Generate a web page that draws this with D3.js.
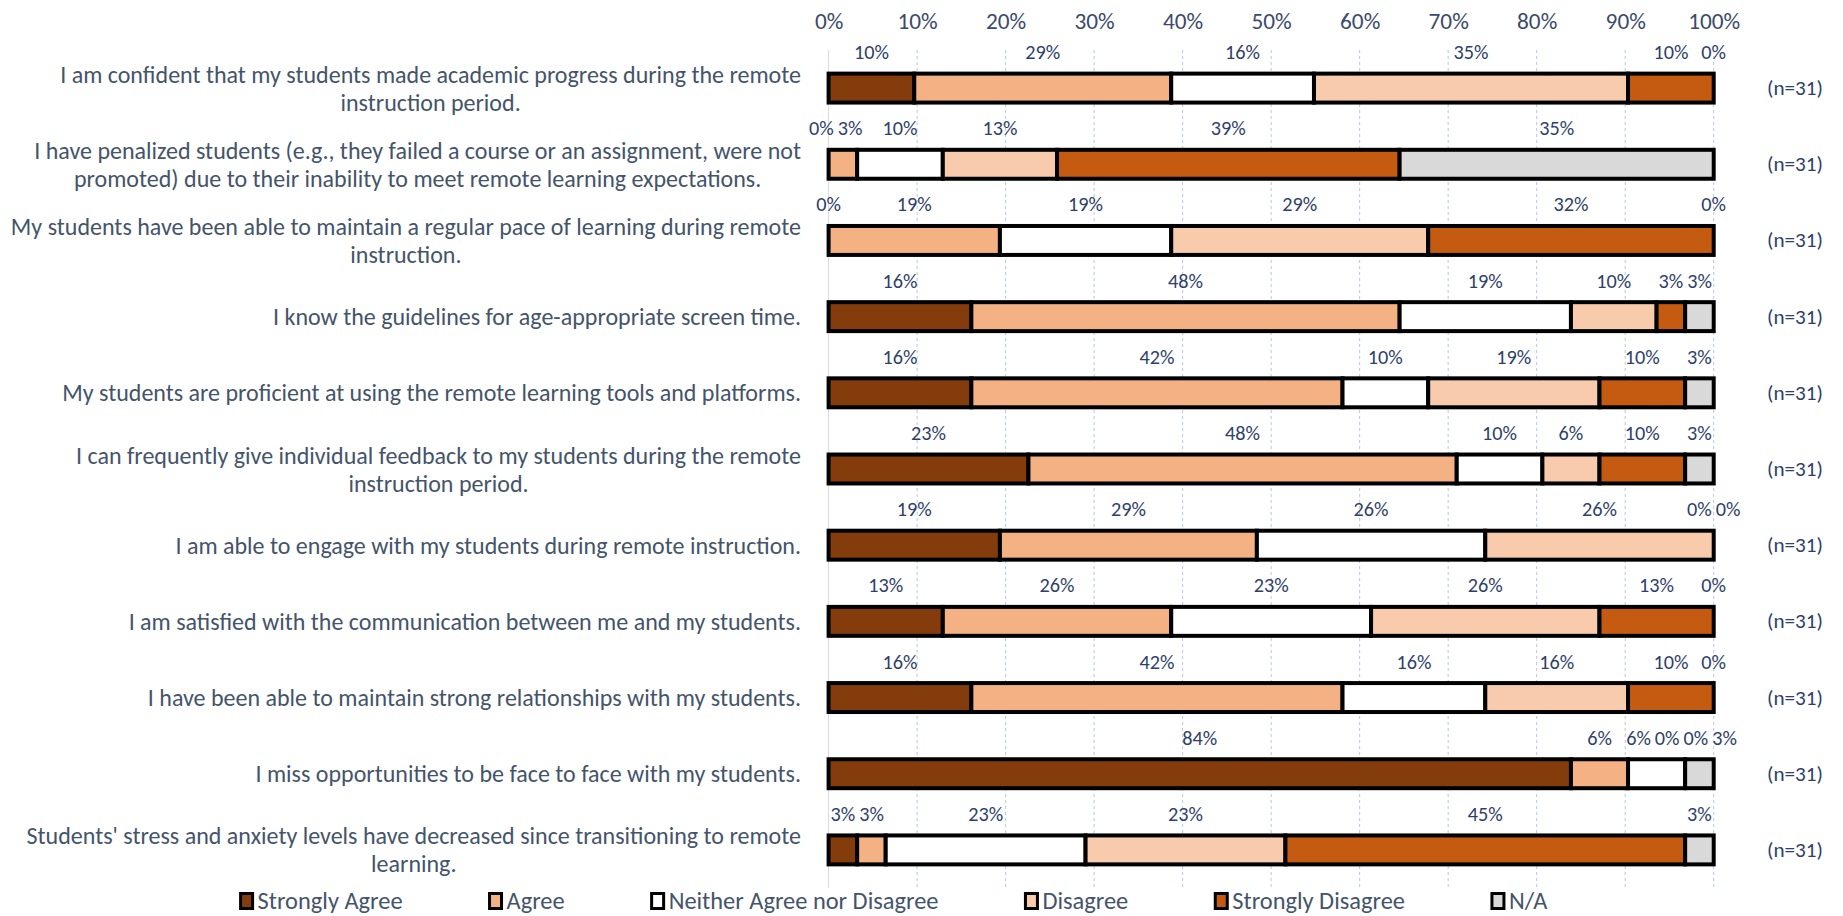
<!DOCTYPE html>
<html>
<head>
<meta charset="utf-8">
<script src="https://cdn.jsdelivr.net/npm/d3@7"></script>
<style>
  html, body { margin: 0; padding: 0; background: #ffffff; }
  svg { display: block; }
</style>
</head>
<body>
<svg id="chart" width="1843" height="916"></svg>
<script>
// ---------------- DATA ----------------
const categories = [
  "I am confident that my students made academic progress during the remote\ninstruction period.",
  "I have penalized students (e.g., they failed a course or an assignment, were not\npromoted) due to their inability to meet remote learning expectations.",
  "My students have been able to maintain a regular pace of learning during remote\ninstruction.",
  "I know the guidelines for age-appropriate screen time.",
  "My students are proficient at using the remote learning tools and platforms.",
  "I can frequently give individual feedback to my students during the remote\ninstruction period.",
  "I am able to engage with my students during remote instruction.",
  "I am satisfied with the communication between me and my students.",
  "I have been able to maintain strong relationships with my students.",
  "I miss opportunities to be face to face with my students.",
  "Students' stress and anxiety levels have decreased since transitioning to remote\nlearning."
];
const seriesNames = ["Strongly Agree", "Agree", "Neither Agree nor Disagree", "Disagree", "Strongly Disagree", "N/A"];
// response counts out of n = 31
const stronglyAgree    = [3, 0, 0, 5, 5, 7, 6, 4, 5, 26, 1];
const agree            = [9, 1, 6, 15, 13, 15, 9, 8, 13, 2, 1];
const neither          = [5, 3, 6, 6, 3, 3, 8, 7, 5, 2, 7];
const disagree         = [11, 4, 9, 3, 6, 2, 8, 8, 5, 0, 7];
const stronglyDisagree = [3, 12, 10, 1, 3, 3, 0, 4, 3, 0, 14];
const notApplicable    = [0, 11, 0, 1, 1, 1, 0, 0, 0, 1, 1];
const respondents      = [31, 31, 31, 31, 31, 31, 31, 31, 31, 31, 31];
const tickValues       = [0, 0.1, 0.2, 0.3, 0.4, 0.5, 0.6, 0.7, 0.8, 0.9, 1.0];
const seriesColors     = ["#843C0C", "#F4B183", "#FFFFFF", "#F8CBAD", "#C55A11", "#D9D9D9"];

// ---------------- BUILD ----------------
const seriesCounts = [stronglyAgree, agree, neither, disagree, stronglyDisagree, notApplicable];
const rows = categories.map((c, i) => {
  const r = { category: c, n: respondents[i] };
  seriesNames.forEach((s, k) => { r[s] = seriesCounts[k][i] / respondents[i]; });
  return r;
});
const stacked = d3.stack().keys(seriesNames)(rows);

const svg = d3.select("#chart");
const FONT = "Carlito, Lato, 'Open Sans', sans-serif";

function fitSize(text, target) {
  const t = svg.append("text").style("font-family", FONT).style("font-size", "100px").text(text);
  const w = t.node().getComputedTextLength();
  t.remove();
  return 100 * target / w;
}
const catSize    = fitSize("I know the guidelines for age-appropriate screen time.", 528);
const tickSize   = fitSize("100%", 52);
const valueSize  = fitSize("10%", 35);
const nSize      = fitSize("(n=31)", 56);
const legendSize = fitSize("Strongly Agree", 145);

const x = d3.scaleLinear().domain([0, 1]).range([828.6, 1713.7]);
const y = d3.scaleBand().domain(categories).range([50, 888]).paddingInner(0.62).paddingOuter(0.31);
const color = d3.scaleOrdinal().domain(seriesNames).range(seriesColors);
const pct = d3.format(".0%");

// gridlines
svg.append("g").selectAll("line")
  .data(tickValues.filter(d => d > 0))
  .join("line")
  .attr("x1", d => x(d)).attr("x2", d => x(d))
  .attr("y1", 50).attr("y2", 888)
  .attr("stroke", "#B4C7E7").attr("stroke-width", 1)
  .attr("stroke-dasharray", "3,3");
// category axis line
svg.append("line")
  .attr("x1", x(0)).attr("x2", x(0)).attr("y1", 50).attr("y2", 888)
  .attr("stroke", "#D9D9D9").attr("stroke-width", 1);

// top axis
const axis = svg.append("g").attr("transform", "translate(0,21)")
  .call(d3.axisTop(x).tickValues(tickValues).tickFormat(pct).tickSize(0).tickPadding(0));
axis.select(".domain").remove();
axis.selectAll("text")
  .attr("y", 0).attr("dy", null)
  .attr("dominant-baseline", "central")
  .style("font-family", FONT).style("font-size", tickSize + "px")
  .attr("fill", "#3B4A6B");

// bars
const bh = y.bandwidth();
svg.append("g").selectAll("g")
  .data(stacked)
  .join("g")
  .attr("fill", d => color(d.key))
  .selectAll("rect")
  .data(d => d.filter(p => p[1] - p[0] > 0))
  .join("rect")
  .attr("x", d => x(d[0]))
  .attr("y", d => y(d.data.category))
  .attr("width", d => x(d[1]) - x(d[0]))
  .attr("height", bh)
  .attr("stroke", "#000").attr("stroke-width", 4);

// value labels (centred over each segment, spread apart when they collide)
const labelG = svg.append("g")
  .style("font-family", FONT).style("font-size", valueSize + "px")
  .attr("fill", "#2F3F6B");
categories.forEach((c, i) => {
  const labs = stacked.map(s => {
    const p = s[i];
    return { text: pct(p[1] - p[0]), x: x((p[0] + p[1]) / 2) };
  });
  labs.forEach(l => {
    const t = labelG.append("text").text(l.text);
    l.w = t.node().getComputedTextLength();
    l.node = t;
  });
  const gap = 4;
  for (let it = 0; it < 200; it++) {
    let moved = false;
    for (let k = 0; k < labs.length - 1; k++) {
      const a = labs[k], b = labs[k + 1];
      const ov = (a.x + a.w / 2 + gap) - (b.x - b.w / 2);
      if (ov > 0.1) { a.x -= ov / 2; b.x += ov / 2; moved = true; }
    }
    if (!moved) break;
  }
  const cy = y(c) + bh / 2 - 36;
  labs.forEach(l => {
    l.node.attr("x", l.x).attr("y", cy)
      .attr("text-anchor", "middle").attr("dominant-baseline", "central");
  });
});

// n labels
svg.append("g").selectAll("text")
  .data(rows)
  .join("text")
  .attr("x", 1795)
  .attr("y", d => y(d.category) + bh / 2)
  .attr("text-anchor", "middle").attr("dominant-baseline", "central")
  .style("font-family", FONT).style("font-size", nSize + "px")
  .attr("fill", "#2F3F6B")
  .text(d => "(n=" + d.n + ")");

// category labels
const lineH = 28;
const catG = svg.append("g")
  .style("font-family", FONT).style("font-size", catSize + "px")
  .attr("fill", "#44546A");
categories.forEach(c => {
  const lines = c.split("\n");
  const g = catG.append("g");
  const nodes = lines.map(l => g.append("text").text(l));
  const widths = nodes.map(n => n.node().getComputedTextLength());
  const blockW = d3.max(widths);
  const cx = 801 - blockW / 2;
  const cy = y(c) + bh / 2;
  nodes.forEach((n, k) => {
    n.attr("x", cx).attr("text-anchor", "middle")
      .attr("y", cy + (k - (lines.length - 1) / 2) * lineH)
      .attr("dominant-baseline", "central");
  });
});

// legend
const legG = svg.append("g")
  .style("font-family", FONT).style("font-size", legendSize + "px");
const mW = 12, mH = 15, mPad = 5, itemGap = 87;
const items = seriesNames.map(s => {
  const t = legG.append("text").text(s).attr("fill", "#44546A").attr("dominant-baseline", "central");
  return { name: s, t: t, w: t.node().getComputedTextLength() };
});
const totalW = d3.sum(items, d => mW + mPad + d.w) + itemGap * (items.length - 1);
let lx = 894 - totalW / 2;
const ly = 901;
items.forEach(it => {
  legG.append("rect")
    .attr("x", lx).attr("y", ly - mH / 2)
    .attr("width", mW).attr("height", mH)
    .attr("fill", color(it.name)).attr("stroke", "#000").attr("stroke-width", 3);
  it.t.attr("x", lx + mW + mPad).attr("y", ly);
  lx += mW + mPad + it.w + itemGap;
});
</script>
</body>
</html>
